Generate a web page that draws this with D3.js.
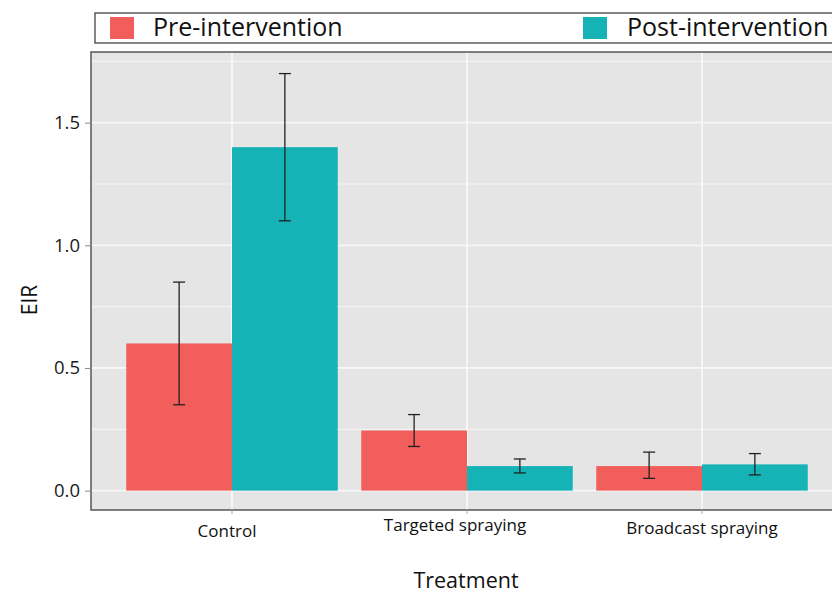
<!DOCTYPE html>
<html>
<head>
<meta charset="utf-8">
<script src="https://cdn.jsdelivr.net/npm/d3@7"></script>
<style>
  body { margin: 0; background: #fff; }
  text { font-family: "Open Sans", "Noto Sans", sans-serif; }
</style>
</head>
<body>
<svg width="832" height="593"></svg>
<script>
var treatments = ["Control", "Targeted spraying", "Broadcast spraying"];
var phases = ["Pre-intervention", "Post-intervention"];
var colors = ["#F25E5B", "#15B2B6"];

// mean EIR, then lower / upper error bar, per phase
var preMean = [0.60, 0.245, 0.10];
var preLow = [0.35, 0.18, 0.05];
var preHigh = [0.85, 0.31, 0.157];
var postMean = [1.40, 0.10, 0.107];
var postLow = [1.10, 0.072, 0.064];
var postHigh = [1.70, 0.129, 0.151];

var yTicks = [0, 0.5, 1.0, 1.5];
var yMinor = [0.25, 0.75, 1.25, 1.75];

var svg = d3.select("svg");

var pLeft = 91, pTop = 52, pBottom = 510;
var step = 235;
// discrete axis with 0.6 step expansion each side; right side runs off the page
var x = d3.scalePoint()
    .domain(treatments)
    .range([pLeft + step * 0.6, pLeft + step * 2.6]);
var barW = step * 0.9 / 2;

var y = d3.scaleLinear().domain([-0.079, 1.788]).range([pBottom, pTop]);

var rows = [];
treatments.forEach(function(t, i) {
    rows.push({ t: t, p: 0, mean: preMean[i], lo: preLow[i], hi: preHigh[i] });
    rows.push({ t: t, p: 1, mean: postMean[i], lo: postLow[i], hi: postHigh[i] });
});

// panel
svg.append("rect")
    .attr("x", pLeft).attr("y", pTop)
    .attr("width", 832 - pLeft + 10).attr("height", pBottom - pTop)
    .attr("fill", "#E5E5E5");

var grid = svg.append("g");
grid.selectAll(".minor").data(yMinor).enter().append("line")
    .attr("x1", pLeft).attr("x2", 832)
    .attr("y1", function(d) { return y(d); }).attr("y2", function(d) { return y(d); })
    .attr("stroke", "#F3F3F3").attr("stroke-width", 1.2);
grid.selectAll(".major").data(yTicks).enter().append("line")
    .attr("x1", pLeft).attr("x2", 832)
    .attr("y1", function(d) { return y(d); }).attr("y2", function(d) { return y(d); })
    .attr("stroke", "#F8F8F8").attr("stroke-width", 1.8);
grid.selectAll(".vert").data(treatments).enter().append("line")
    .attr("x1", x).attr("x2", x)
    .attr("y1", pTop).attr("y2", pBottom)
    .attr("stroke", "#F8F8F8").attr("stroke-width", 1.8);

// bars
svg.append("g").selectAll("rect")
    .data(rows).enter().append("rect")
    .attr("x", function(d) { return x(d.t) - barW + d.p * barW; })
    .attr("width", barW)
    .attr("y", function(d) { return y(d.mean); })
    .attr("height", function(d) { return y(0) - y(d.mean); })
    .attr("fill", function(d) { return colors[d.p]; });

// error bars
var err = svg.append("g").attr("stroke", "#222").attr("stroke-width", 1.3);
rows.forEach(function(d) {
    var cx = x(d.t) - barW / 2 + d.p * barW;
    err.append("line").attr("x1", cx).attr("x2", cx).attr("y1", y(d.lo)).attr("y2", y(d.hi));
    err.append("line").attr("x1", cx - 6).attr("x2", cx + 6).attr("y1", y(d.lo)).attr("y2", y(d.lo));
    err.append("line").attr("x1", cx - 6).attr("x2", cx + 6).attr("y1", y(d.hi)).attr("y2", y(d.hi));
});

// panel border (no right side - cropped)
svg.append("path")
    .attr("d", "M832," + pTop + "H" + pLeft + "V" + pBottom + "H832")
    .attr("fill", "none").attr("stroke", "#555").attr("stroke-width", 1.5);

// y axis
var yAxis = svg.append("g")
    .attr("transform", "translate(" + pLeft + ",0)")
    .call(d3.axisLeft(y).tickValues(yTicks).tickFormat(d3.format(".1f")).tickSize(6).tickPadding(5));
yAxis.select(".domain").remove();
yAxis.selectAll("line").attr("stroke", "#888");
yAxis.selectAll("text").attr("font-size", 18.5).attr("fill", "#1a1a1a")
    .attr("font-family", "'Open Sans', sans-serif");

// x axis labels (slightly uneven placement as in the original figure)
var xAxis = svg.append("g");
xAxis.selectAll("line").data(treatments).enter().append("line")
    .attr("x1", x).attr("x2", x)
    .attr("y1", pBottom).attr("y2", pBottom + 4)
    .attr("stroke", "#AAA");
var xDy = [0, -6, -3], xDx = [-5, -12, 0];
xAxis.selectAll("text").data(treatments).enter().append("text")
    .attr("x", function(d, i) { return x(d) + xDx[i]; })
    .attr("y", function(d, i) { return 537 + xDy[i]; })
    .attr("text-anchor", "middle")
    .attr("font-size", 17).attr("fill", "#111")
    .text(function(d) { return d; });

svg.append("text")
    .attr("x", 466).attr("y", 588)
    .attr("text-anchor", "middle")
    .attr("font-size", 21.5).attr("fill", "#111")
    .text("Treatment");

svg.append("text")
    .attr("transform", "translate(37,300) rotate(-90)")
    .attr("text-anchor", "middle")
    .attr("font-size", 21).attr("fill", "#111")
    .text("EIR");

// legend
var legend = svg.append("g");
legend.append("rect")
    .attr("x", 95).attr("y", 13).attr("width", 760).attr("height", 30)
    .attr("fill", "#fff").attr("stroke", "#444").attr("stroke-width", 1.3);
var legendX = [110, 583], legendTextX = [153, 627];
phases.forEach(function(p, i) {
    legend.append("rect")
        .attr("x", legendX[i]).attr("y", 17)
        .attr("width", 24).attr("height", 22)
        .attr("fill", colors[i]);
    legend.append("text")
        .attr("x", legendTextX[i]).attr("y", 36)
        .attr("font-size", 25).attr("fill", "#111")
        .text(p);
});
</script>
</body>
</html>
